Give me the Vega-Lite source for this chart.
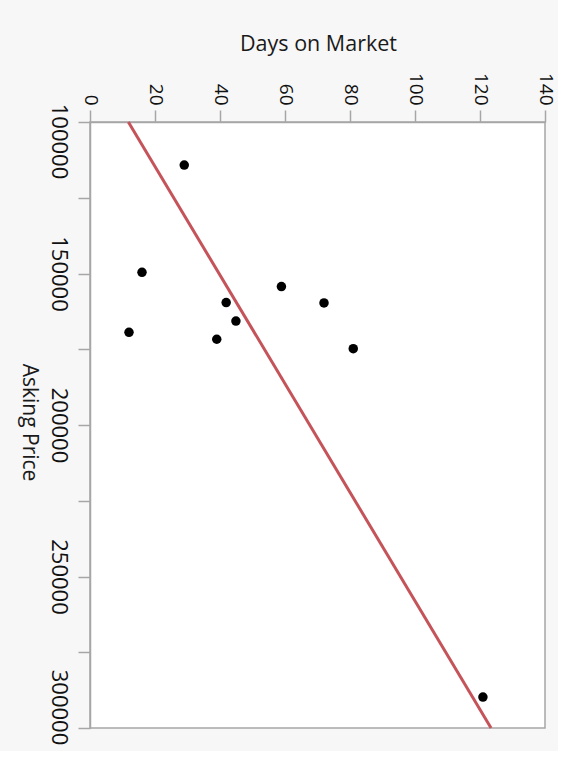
{
  "$schema": "https://vega.github.io/schema/vega-lite/v6.json",
  "autosize": "none",
  "width": 455,
  "height": 606,
  "padding": {"left": 90, "top": 122, "right": 13, "bottom": 23},
  "background": "#f7f7f7",
  "config": {
    "view": {"fill": "white", "stroke": "#a6a6a6", "strokeWidth": 1.5},
    "axis": {
      "domainColor": "#a6a6a6",
      "domainWidth": 1.5,
      "tickColor": "#a6a6a6",
      "tickWidth": 1.5,
      "tickSize": 12,
      "grid": false,
      "labelFont": "Open Sans",
      "titleFont": "Open Sans",
      "labelColor": "#111111",
      "titleColor": "#1a1a1a",
      "titleFontWeight": "normal"
    }
  },
  "datasets": {
    "homes": [
      {"days": 29.0, "price": 114200},
      {"days": 16.0, "price": 149600},
      {"days": 12.0, "price": 169400},
      {"days": 41.9, "price": 159600},
      {"days": 44.9, "price": 165700},
      {"days": 39.0, "price": 171700},
      {"days": 58.9, "price": 154300},
      {"days": 72.0, "price": 159700},
      {"days": 81.0, "price": 174800},
      {"days": 120.9, "price": 289800}
    ],
    "fit": [
      {"days": 11.8, "price": 100000},
      {"days": 123.4, "price": 300000}
    ]
  },
  "layer": [
    {
      "data": {"name": "fit"},
      "mark": {"type": "line", "color": "#c5535a", "strokeWidth": 3},
      "encoding": {
        "x": {"field": "days", "type": "quantitative"},
        "y": {"field": "price", "type": "quantitative"}
      }
    },
    {
      "data": {"name": "homes"},
      "mark": {"type": "circle", "color": "black", "opacity": 1, "size": 90},
      "encoding": {
        "x": {
          "field": "days",
          "type": "quantitative",
          "title": "Days on Market",
          "scale": {"domain": [0, 140], "nice": false},
          "axis": {
            "orient": "top",
            "values": [0, 20, 40, 60, 80, 100, 120, 140],
            "labelAngle": 90,
            "labelFontSize": 19,
            "labelPadding": 5,
            "titleFontSize": 21.5,
            "titleX": 228,
            "titleY": -72,
            "titleAlign": "center",
            "titleBaseline": "alphabetic"
          }
        },
        "y": {
          "field": "price",
          "type": "quantitative",
          "title": "Asking Price",
          "scale": {"domain": [100000, 300000], "nice": false, "reverse": true, "zero": false},
          "axis": {
            "values": [100000, 125000, 150000, 175000, 200000, 225000, 250000, 275000, 300000],
            "labelExpr": "datum.value % 50000 == 0 ? '' + datum.value : ''",
            "labelAngle": 90,
            "labelFontSize": 22,
            "labelPadding": 10,
            "labelOffset": {"condition": [
              {"test": "datum.value == 100000", "value": 19},
              {"test": "datum.value == 300000", "value": -21}
            ], "value": 0},
            "titleAngle": 90,
            "titleFontSize": 21,
            "titleX": -68,
            "titleY": 300,
            "titleAlign": "center",
            "titleBaseline": "alphabetic"
          }
        }
      }
    }
  ]
}
